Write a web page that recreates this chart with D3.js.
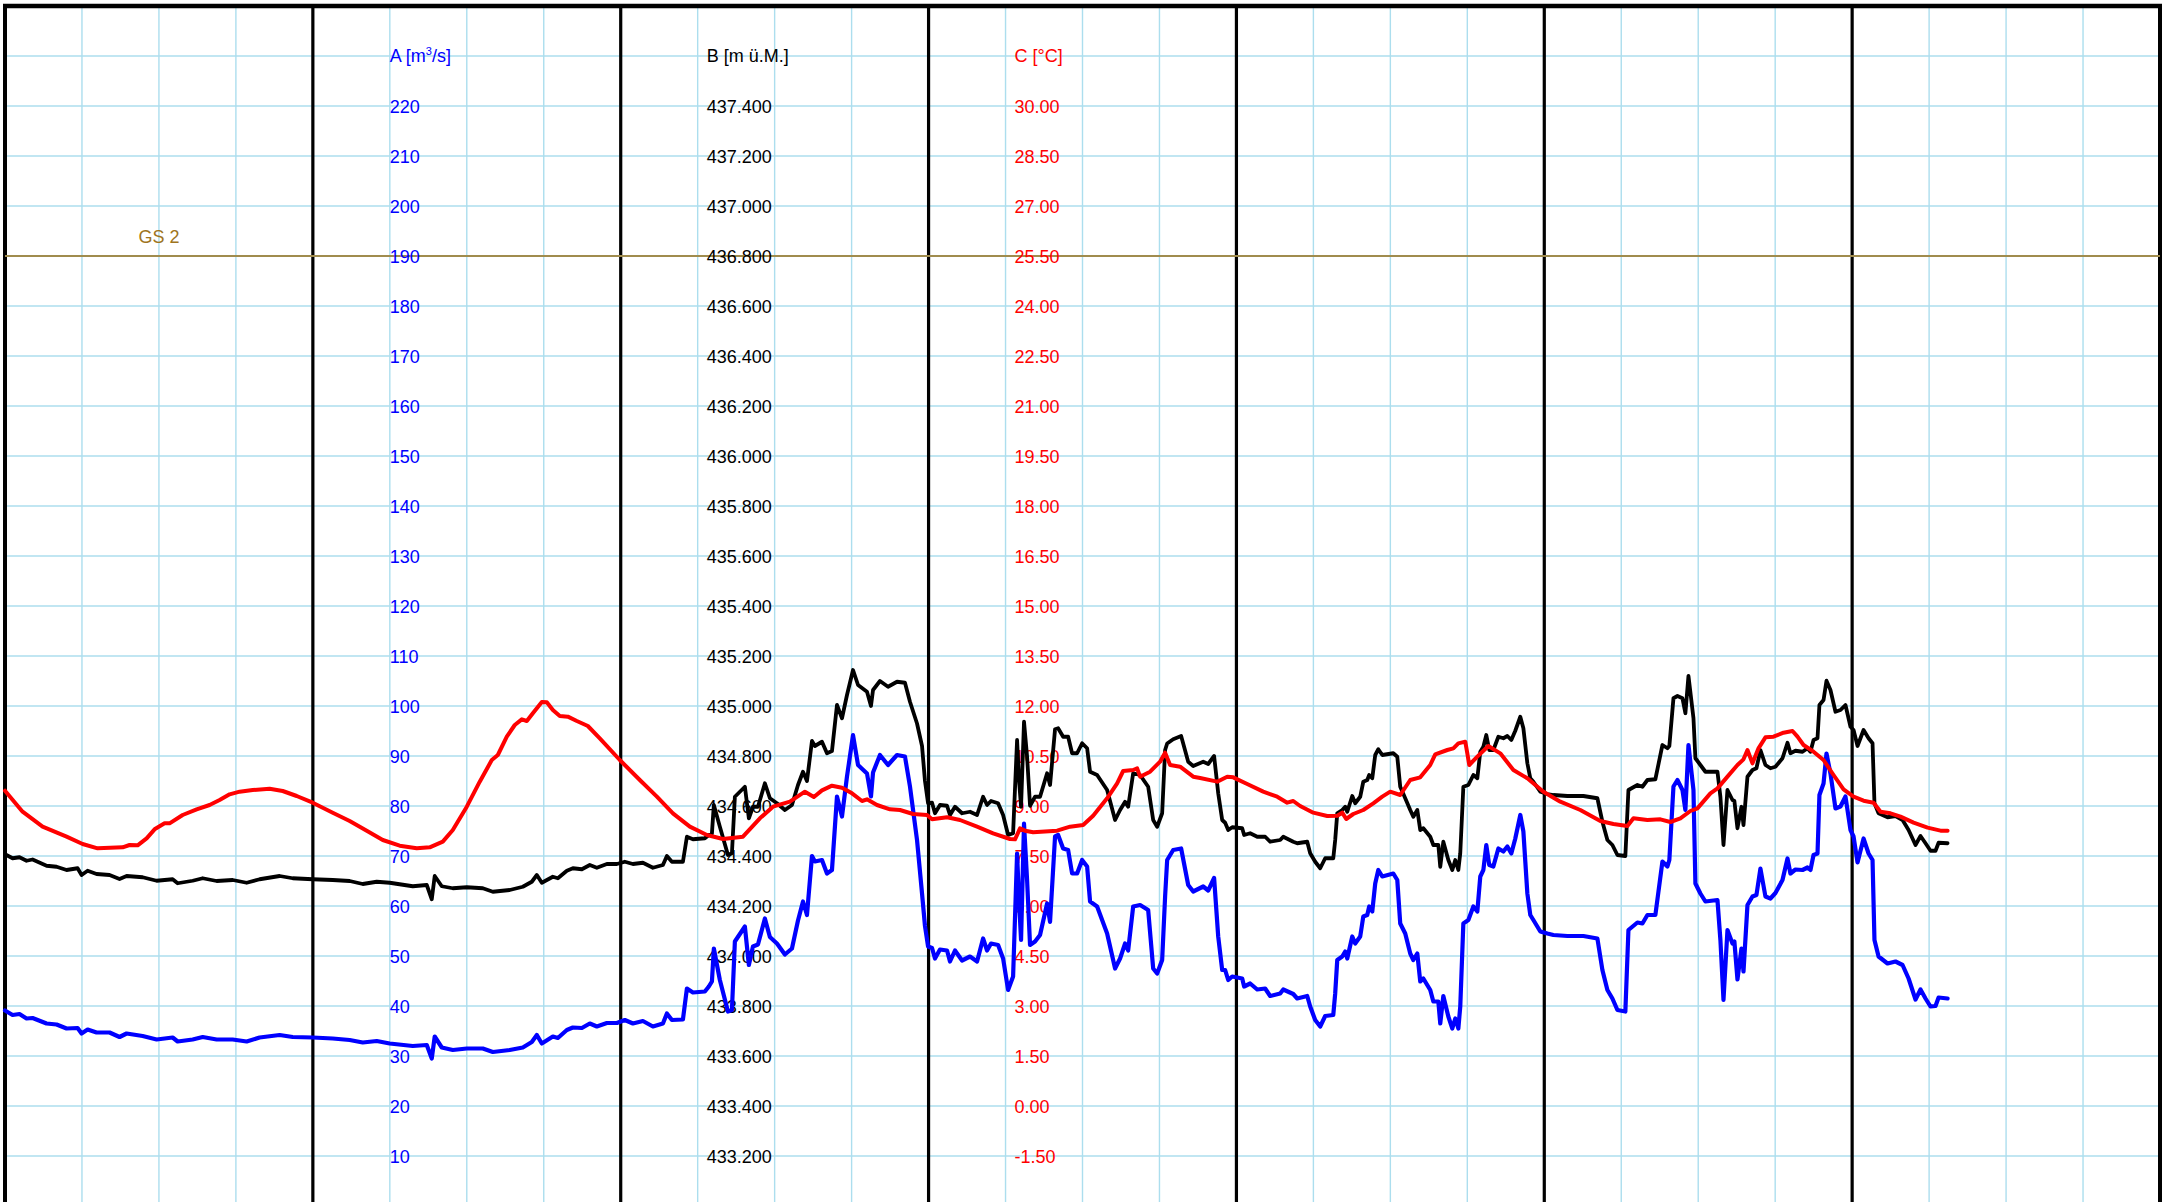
<!DOCTYPE html>
<html>
<head>
<meta charset="utf-8">
<script src="https://cdn.jsdelivr.net/npm/d3@7"></script>
<style>
  body { margin: 0; background: #fff; }
  svg { display: block; font-family: 'Liberation Sans', Arial, sans-serif; }
</style>
</head>
<body>
<div id="chart"></div>
<script>
// hours since start of the week, shared by discharge (A) and water level (B)
const hoursAB = [
  0, 0.59, 1.13, 1.68, 2.15, 3.24, 4.02, 4.80, 5.66, 5.97,
  6.44, 7.14, 8.15, 8.93, 9.48, 10.73, 11.82, 13.07, 13.46, 14.63,
  15.41, 16.5, 17.75, 18.84, 19.85, 21.41, 22.43, 23.99, 25.55, 26.87,
  27.89, 28.98, 29.99, 31.79, 32.88, 33.27, 33.5, 34.05, 34.91, 36.0,
  37.25, 38.03, 39.35, 40.37, 41.07, 41.46, 41.85, 42.71, 43.1, 43.8,
  44.27, 44.97, 45.59, 46.14, 46.92, 47.7, 48.32, 48.95, 49.73, 50.51,
  51.29, 51.6, 51.99, 52.85, 53.16, 53.63, 54.56, 54.87, 55.11, 55.26,
  55.73, 56.36, 56.67, 56.9, 57.68, 57.99, 58.31, 58.7, 59.24, 59.63,
  60.18, 60.8, 61.35, 61.82, 62.21, 62.52, 62.91, 63.14, 63.69, 64.08,
  64.47, 64.86, 65.25, 65.64, 66.11, 66.5, 67.2, 67.51, 67.67, 68.21,
  68.84, 69.54, 70.16, 70.55, 71.1, 71.49, 71.72, 71.96, 72.27, 72.5,
  72.89, 73.44, 73.67, 74.06, 74.61, 75.23, 75.78, 76.25, 76.56, 76.87,
  77.42, 77.81, 78.2, 78.59, 78.9, 79.05, 79.21, 79.44, 79.68, 79.91,
  80.3, 80.69, 81.24, 81.47, 81.86, 82.1, 82.49, 82.88, 83.19, 83.58,
  83.97, 84.36, 84.59, 85.14, 85.92, 86.54, 86.93, 87.32, 87.56, 87.95,
  88.49, 89.12, 89.51, 89.82, 90.21, 90.44, 90.6, 91.07, 91.69, 92.24,
  92.63, 93.41, 93.8, 94.26, 94.58, 94.89, 95.12, 95.36, 95.67, 96.45,
  96.6, 97.07, 97.62, 98.24, 98.63, 99.41, 99.65, 100.43, 100.74, 101.52,
  101.75, 102.14, 102.53, 102.92, 103.55, 103.7, 103.86, 104.25, 104.48, 104.64,
  105.03, 105.26, 105.65, 105.89, 106.2, 106.35, 106.59, 106.82, 107.06, 107.37,
  108.23, 108.54, 108.77, 109.16, 109.55, 109.79, 110.1, 110.33, 110.57, 111.11,
  111.35, 111.74, 111.89, 112.13, 112.52, 112.83, 113.06, 113.3, 113.45, 113.69,
  114.08, 114.47, 114.78, 115.01, 115.25, 115.48, 115.71, 116.03, 116.42, 116.81,
  117.12, 117.43, 117.74, 118.13, 118.37, 118.68, 118.91, 119.15, 119.69, 120.24,
  120.71, 121.8, 123.05, 124.14, 124.53, 124.92, 125.31, 125.7, 126.32, 126.56,
  127.26, 127.65, 128.04, 128.66, 129.21, 129.6, 129.75, 130.07, 130.38, 130.77,
  131.0, 131.24, 131.63, 131.78, 132.17, 132.56, 133.5, 133.73, 133.97, 134.28,
  134.67, 134.82, 135.06, 135.37, 135.53, 135.84, 136.23, 136.54, 136.85, 137.24,
  137.63, 138.02, 138.57, 138.96, 139.19, 139.58, 140.13, 140.52, 140.75, 140.99,
  141.3, 141.45, 141.77, 142.0, 142.31, 142.7, 143.09, 143.48, 143.87, 144.11,
  144.42, 144.89, 145.28, 145.59, 145.74, 146.06, 146.76, 147.38, 147.93, 148.4,
  148.94, 149.33, 149.72, 150.11, 150.5, 150.74, 151.44
];

// A: discharge [m3/s]
const seriesA = [
  39.1, 38.2, 38.4, 37.5, 37.6, 36.5, 36.3, 35.5, 35.6, 34.5,
  35.3, 34.7, 34.7, 33.8, 34.5, 34.0, 33.3, 33.7, 32.9, 33.3,
  33.8, 33.3, 33.3, 32.9, 33.7, 34.2, 33.8, 33.7, 33.5, 33.2,
  32.7, 33.0, 32.5, 32.0, 32.2, 29.5, 33.9, 31.7, 31.2, 31.5,
  31.5, 30.8, 31.2, 31.7, 32.8, 34.2, 32.5, 33.9, 33.6, 35.2,
  35.7, 35.6, 36.5, 35.9, 36.6, 36.6, 37.2, 36.5, 37.0, 35.9,
  36.5, 38.5, 37.2, 37.3, 43.5, 42.7, 42.9, 43.9, 44.9, 51.5,
  45.2, 38.9, 39.2, 52.9, 55.9, 48.2, 51.9, 52.3, 57.5, 53.8,
  52.5, 50.3, 51.5, 57.1, 60.9, 58.2, 70.0, 68.9, 69.2, 66.5,
  67.2, 81.9, 77.9, 85.9, 94.2, 88.2, 86.5, 81.9, 86.7, 90.2,
  88.2, 90.2, 89.9, 83.9, 73.2, 62.5, 56.0, 51.9, 51.6, 49.5,
  51.3, 51.1, 48.9, 51.1, 49.1, 49.9, 48.9, 53.5, 51.1, 52.5,
  52.2, 49.5, 43.2, 45.9, 70.5, 61.2, 53.2, 76.5, 65.2, 52.2,
  52.9, 54.2, 60.5, 56.8, 73.9, 74.2, 71.5, 71.2, 66.5, 66.5,
  69.2, 67.9, 60.9, 59.9, 54.5, 47.5, 49.5, 52.5, 51.1, 59.9,
  60.2, 59.2, 47.5, 46.5, 49.2, 61.9, 69.2, 71.2, 71.5, 64.2,
  62.9, 63.9, 63.1, 65.6, 53.9, 47.2, 47.2, 45.2, 45.9, 45.5,
  43.9, 44.5, 43.3, 43.5, 42.0, 42.5, 43.3, 42.4, 41.5, 42.0,
  39.9, 37.2, 35.9, 38.0, 38.2, 42.5, 49.2, 49.9, 50.9, 49.5,
  53.9, 52.5, 53.9, 57.9, 58.2, 59.9, 58.9, 64.5, 67.2, 65.9,
  66.5, 65.2, 56.5, 54.5, 50.5, 49.2, 50.5, 44.9, 45.5, 43.2,
  40.9, 40.9, 36.5, 42.0, 37.9, 35.5, 37.5, 35.5, 39.9, 56.5,
  57.2, 59.9, 58.9, 65.9, 67.2, 72.2, 68.2, 67.9, 71.5, 70.9,
  71.9, 70.5, 73.5, 78.2, 74.9, 62.5, 58.2, 57.2, 54.9, 54.5,
  54.2, 54.0, 54.0, 53.5, 47.2, 43.2, 41.5, 39.2, 38.9, 55.2,
  56.7, 56.5, 58.2, 58.2, 68.9, 67.9, 69.2, 83.9, 85.2, 83.2,
  79.2, 92.2, 83.2, 64.5, 62.5, 60.9, 61.2, 53.2, 41.2, 55.2,
  52.5, 52.9, 45.3, 51.5, 46.9, 60.2, 61.9, 62.2, 67.5, 61.9,
  61.5, 62.6, 65.2, 69.5, 66.5, 67.3, 67.2, 67.7, 67.2, 70.2,
  70.5, 82.2, 84.5, 90.5, 86.5, 79.5, 79.9, 81.9, 75.2, 73.9,
  68.7, 73.5, 70.5, 69.2, 53.2, 49.9, 48.5, 48.9, 48.2, 45.5,
  41.3, 43.3, 41.5, 39.9, 40.0, 41.7, 41.5
];

// B: water level [m ü.M.]
const seriesB = [
  434.407, 434.391, 434.395, 434.381, 434.386, 434.361, 434.357, 434.344, 434.351, 434.324,
  434.341, 434.328, 434.324, 434.308, 434.320, 434.315, 434.301, 434.307, 434.291, 434.301,
  434.311, 434.300, 434.304, 434.293, 434.307, 434.320, 434.311, 434.307, 434.304, 434.300,
  434.288, 434.297, 434.293, 434.279, 434.284, 434.227, 434.320, 434.279, 434.271, 434.275,
  434.271, 434.257, 434.264, 434.277, 434.297, 434.324, 434.293, 434.317, 434.311, 434.341,
  434.351, 434.347, 434.364, 434.353, 434.368, 434.368, 434.377, 434.368, 434.373, 434.353,
  434.364, 434.400, 434.377, 434.377, 434.477, 434.467, 434.471, 434.484, 434.490, 434.604,
  434.517, 434.404, 434.411, 434.637, 434.677, 434.551, 434.597, 434.597, 434.691, 434.631,
  434.611, 434.584, 434.604, 434.684, 434.737, 434.700, 434.860, 434.840, 434.857, 434.811,
  434.820, 435.004, 434.951, 435.044, 435.144, 435.084, 435.057, 435.000, 435.064, 435.100,
  435.077, 435.097, 435.093, 435.017, 434.930, 434.840, 434.700, 434.611, 434.613, 434.571,
  434.604, 434.601, 434.564, 434.597, 434.571, 434.577, 434.564, 434.637, 434.604, 434.620,
  434.611, 434.564, 434.484, 434.491, 434.864, 434.704, 434.597, 434.937, 434.797, 434.601,
  434.637, 434.637, 434.731, 434.684, 434.907, 434.911, 434.877, 434.877, 434.811, 434.811,
  434.851, 434.831, 434.737, 434.724, 434.664, 434.544, 434.584, 434.617, 434.597, 434.731,
  434.724, 434.677, 434.544, 434.517, 434.571, 434.824, 434.850, 434.867, 434.880, 434.777,
  434.760, 434.777, 434.768, 434.800, 434.651, 434.544, 434.533, 434.504, 434.515, 434.511,
  434.484, 434.491, 434.477, 434.477, 434.457, 434.464, 434.477, 434.457, 434.451, 434.457,
  434.411, 434.377, 434.351, 434.391, 434.391, 434.464, 434.571, 434.584, 434.597, 434.577,
  434.640, 434.611, 434.637, 434.697, 434.704, 434.724, 434.711, 434.804, 434.827, 434.804,
  434.811, 434.797, 434.677, 434.631, 434.584, 434.557, 434.584, 434.504, 434.511, 434.477,
  434.444, 434.444, 434.357, 434.457, 434.384, 434.344, 434.384, 434.344, 434.411, 434.677,
  434.684, 434.724, 434.711, 434.817, 434.837, 434.884, 434.824, 434.824, 434.877, 434.871,
  434.880, 434.864, 434.901, 434.957, 434.911, 434.771, 434.711, 434.697, 434.657, 434.648,
  434.644, 434.640, 434.640, 434.631, 434.537, 434.464, 434.444, 434.404, 434.400, 434.664,
  434.684, 434.677, 434.704, 434.707, 434.844, 434.831, 434.840, 435.031, 435.040, 435.031,
  434.971, 435.120, 434.951, 434.791, 434.764, 434.737, 434.737, 434.637, 434.444, 434.664,
  434.624, 434.620, 434.511, 434.597, 434.524, 434.717, 434.744, 434.751, 434.824, 434.764,
  434.751, 434.757, 434.791, 434.853, 434.811, 434.821, 434.817, 434.831, 434.817, 434.864,
  434.871, 435.004, 435.024, 435.101, 435.064, 434.977, 434.984, 435.004, 434.917, 434.904,
  434.840, 434.904, 434.871, 434.851, 434.611, 434.571, 434.555, 434.560, 434.544, 434.504,
  434.444, 434.480, 434.451, 434.421, 434.421, 434.453, 434.451
];

// C: water temperature [°C]
const hoursC = [
  0, 1.37, 2.93, 4.80, 6.05, 7.22, 9.17, 9.71, 10.34, 11.04,
  11.66, 12.44, 12.83, 13.85, 14.94, 15.95, 16.73, 17.51, 18.29, 19.31,
  20.63, 21.65, 22.74, 23.99, 25.55, 26.87, 28.2, 29.45, 30.77, 32.1,
  33.11, 34.13, 34.91, 36.0, 37.01, 37.95, 38.42, 39.12, 39.74, 40.29,
  40.68, 41.15, 41.85, 42.24, 42.71, 43.25, 43.88, 44.58, 45.44, 46.37,
  47.93, 49.49, 50.82, 52.07, 53.39, 54.72, 55.97, 57.53, 58.85, 59.87,
  61.19, 62.36, 63.06, 63.69, 64.47, 65.25, 66.03, 66.81, 67.2, 67.98,
  68.99, 69.77, 70.79, 71.88, 72.27, 73.44, 74.45, 75.78, 77.03, 78.35,
  78.74, 79.13, 79.52, 80.15, 82.02, 83.03, 84.05, 84.83, 85.92, 86.7,
  87.17, 87.95, 88.26, 88.49, 89.27, 90.05, 90.44, 90.83, 91.61, 92.63,
  93.17, 94.5, 95.28, 95.75, 96.84, 98.09, 99.18, 99.96, 100.43, 100.97,
  101.99, 103.08, 103.86, 104.25, 104.56, 105.11, 105.89, 106.67, 107.37, 107.99,
  108.77, 109.55, 110.33, 111.11, 111.5, 112.44, 112.91, 113.3, 113.84, 114.0,
  114.15, 114.78, 115.64, 116.57, 117.59, 118.68, 119.93, 121.25, 122.81, 124.37,
  125.39, 126.48, 126.95, 128.04, 129.05, 129.83, 130.61, 131.39, 131.94, 132.95,
  133.5, 134.28, 135.06, 135.53, 135.84, 136.23, 136.7, 137.24, 137.87, 138.65,
  139.35, 139.74, 140.21, 140.99, 141.77, 142.55, 143.33, 144.11, 144.89, 145.67,
  146.21, 146.99, 147.77, 148.79, 149.88, 150.89, 151.44
];
const seriesC = [
  9.46, 8.83, 8.38, 8.08, 7.86, 7.73, 7.76, 7.83, 7.82, 8.03,
  8.30, 8.48, 8.48, 8.73, 8.90, 9.03, 9.18, 9.35, 9.43, 9.48,
  9.52, 9.45, 9.30, 9.10, 8.80, 8.55, 8.26, 7.98, 7.81, 7.73,
  7.76, 7.93, 8.28, 8.98, 9.73, 10.38, 10.53, 11.08, 11.43, 11.60,
  11.55, 11.78, 12.12, 12.11, 11.88, 11.70, 11.68, 11.55, 11.40, 11.03,
  10.38, 9.78, 9.28, 8.78, 8.38, 8.13, 8.01, 8.08, 8.63, 8.98,
  9.13, 9.43, 9.27, 9.47, 9.61, 9.55, 9.38, 9.15, 9.20, 9.03,
  8.90, 8.88, 8.76, 8.73, 8.60, 8.66, 8.58, 8.38, 8.18, 8.01,
  8.00, 8.33, 8.26, 8.21, 8.26, 8.38, 8.43, 8.71, 9.23, 9.68,
  10.05, 10.08, 10.13, 9.88, 10.03, 10.33, 10.60, 10.23, 10.18, 9.88,
  9.84, 9.73, 9.88, 9.86, 9.66, 9.43, 9.28, 9.10, 9.15, 9.00,
  8.80, 8.70, 8.71, 8.80, 8.61, 8.76, 8.88, 9.08, 9.28, 9.43,
  9.33, 9.78, 9.86, 10.23, 10.55, 10.68, 10.73, 10.88, 10.93, 10.58,
  10.23, 10.48, 10.80, 10.58, 10.08, 9.83, 9.43, 9.13, 8.88, 8.55,
  8.46, 8.40, 8.63, 8.58, 8.60, 8.52, 8.63, 8.85, 8.93, 9.38,
  9.53, 9.88, 10.23, 10.40, 10.68, 10.28, 10.73, 11.06, 11.08, 11.20,
  11.25, 11.08, 10.83, 10.63, 10.38, 9.93, 9.50, 9.28, 9.16, 9.10,
  8.83, 8.78, 8.68, 8.50, 8.35, 8.26, 8.26
];

// tick labels of the three value columns
const ticksA = [10, 20, 30, 40, 50, 60, 70, 80, 90, 100, 110, 120, 130, 140, 150, 160, 170, 180, 190, 200, 210, 220];
const ticksB = [433.2, 433.4, 433.6, 433.8, 434.0, 434.2, 434.4, 434.6, 434.8, 435.0, 435.2, 435.4,
  435.6, 435.8, 436.0, 436.2, 436.4, 436.6, 436.8, 437.0, 437.2, 437.4];
const ticksC = [-1.5, 0, 1.5, 3, 4.5, 6, 7.5, 9, 10.5, 12, 13.5, 15, 16.5, 18, 19.5, 21, 22.5, 24, 25.5, 27, 28.5, 30];
const limitGS2 = 190;

const W = 2164, H = 1202;
const gridColor = '#acdeee';

const svg = d3.select('#chart').append('svg')
    .attr('width', W)
    .attr('height', H);

svg.append('rect').attr('width', W).attr('height', H).attr('fill', '#fff');

// 7 days of 24 h
const x = d3.scaleLinear().domain([0, 168]).range([5, 2160]);
const yA = d3.scaleLinear().domain([0, 240]).range([1206, 6]);
const yB = d3.scaleLinear().domain([433.0, 437.8]).range([1206, 6]);
const yC = d3.scaleLinear().domain([-3, 33]).range([1206, 6]);

// horizontal grid
svg.append('g')
    .selectAll('line')
    .data(yA.ticks(24).filter(d => d > 0 && d < 240))
    .enter()
    .append('line')
    .attr('x1', x(0)).attr('x2', x(168))
    .attr('y1', d => yA(d)).attr('y2', d => yA(d))
    .attr('stroke', gridColor)
    .attr('stroke-width', 1.6);

// vertical grid, every 6 h, thicker at midnight
const hours = d3.range(0, 169, 6);
svg.append('g')
    .selectAll('line')
    .data(hours.filter(h => h % 24 !== 0))
    .enter()
    .append('line')
    .attr('x1', d => x(d)).attr('x2', d => x(d))
    .attr('y1', yA(240)).attr('y2', H)
    .attr('stroke', gridColor)
    .attr('stroke-width', 1.4);

svg.append('g')
    .selectAll('line')
    .data(hours.filter(h => h % 24 === 0))
    .enter()
    .append('line')
    .attr('x1', d => x(d)).attr('x2', d => x(d))
    .attr('y1', yA(240) - 2).attr('y2', H)
    .attr('stroke', '#000')
    .attr('stroke-width', d => (d === 0 || d === 168) ? 4 : 3.2);

// top border
svg.append('line')
    .attr('x1', x(0) - 2).attr('x2', x(168) + 2)
    .attr('y1', yA(240)).attr('y2', yA(240))
    .attr('stroke', '#000')
    .attr('stroke-width', 4.5);

// GS 2 limit line
svg.append('line')
    .attr('x1', x(0)).attr('x2', x(168))
    .attr('y1', yA(limitGS2)).attr('y2', yA(limitGS2))
    .attr('stroke', '#a08c4e')
    .attr('stroke-width', 2);
svg.append('text')
    .attr('x', x(12))
    .attr('y', yA(limitGS2) - 13)
    .attr('text-anchor', 'middle')
    .attr('font-size', 18)
    .attr('fill', '#9e7420')
    .text('GS 2');

// value columns
function column(scale, ticks, fmt, xPos, color) {
    const g = svg.append('g')
        .attr('transform', `translate(${xPos},0)`)
        .call(d3.axisRight(scale).tickValues(ticks).tickSize(0).tickPadding(0).tickFormat(fmt));
    g.select('.domain').remove();
    g.attr('font-size', 18)
        .attr('font-family', "'Liberation Sans', Arial, sans-serif")
        .attr('color', color);
    g.selectAll('text').attr('dy', '0.36em');
    return g;
}
column(yA, ticksA, d => d.toFixed(0), x(30), '#0000ff');
column(yB, ticksB, d => d.toFixed(3), x(54) + 9, '#000');
column(yC, ticksC, d => d.toFixed(2), x(78) + 9, '#ff0000');

const headA = svg.append('text')
    .attr('x', x(30)).attr('y', yA(230)).attr('dy', '0.36em')
    .attr('font-size', 18).attr('fill', '#0000ff');
headA.append('tspan').text('A [m');
headA.append('tspan').attr('font-size', 11).attr('dy', -7).text('3');
headA.append('tspan').attr('dy', 7).text('/s]');

svg.append('text')
    .attr('x', x(54) + 9).attr('y', yA(230)).attr('dy', '0.36em')
    .attr('font-size', 18).attr('fill', '#000')
    .text('B [m ü.M.]');

svg.append('text')
    .attr('x', x(78) + 9).attr('y', yA(230)).attr('dy', '0.36em')
    .attr('font-size', 18).attr('fill', '#ff0000')
    .text('C [°C]');

// series
const dataA = hoursAB.map((h, i) => ({h: h, v: seriesA[i]}));
const dataB = hoursAB.map((h, i) => ({h: h, v: seriesB[i]}));
const dataC = hoursC.map((h, i) => ({h: h, v: seriesC[i]}));

function drawLine(data, scale, color, width) {
    svg.append('path')
        .datum(data)
        .attr('fill', 'none')
        .attr('stroke', color)
        .attr('stroke-width', width)
        .attr('stroke-linejoin', 'round')
        .attr('stroke-linecap', 'round')
        .attr('d', d3.line().x(d => x(d.h)).y(d => scale(d.v)));
}
drawLine(dataA, yA, '#0000ff', 4.2);
drawLine(dataB, yB, '#000', 3.8);
drawLine(dataC, yC, '#ff0000', 4);
</script>
</body>
</html>
